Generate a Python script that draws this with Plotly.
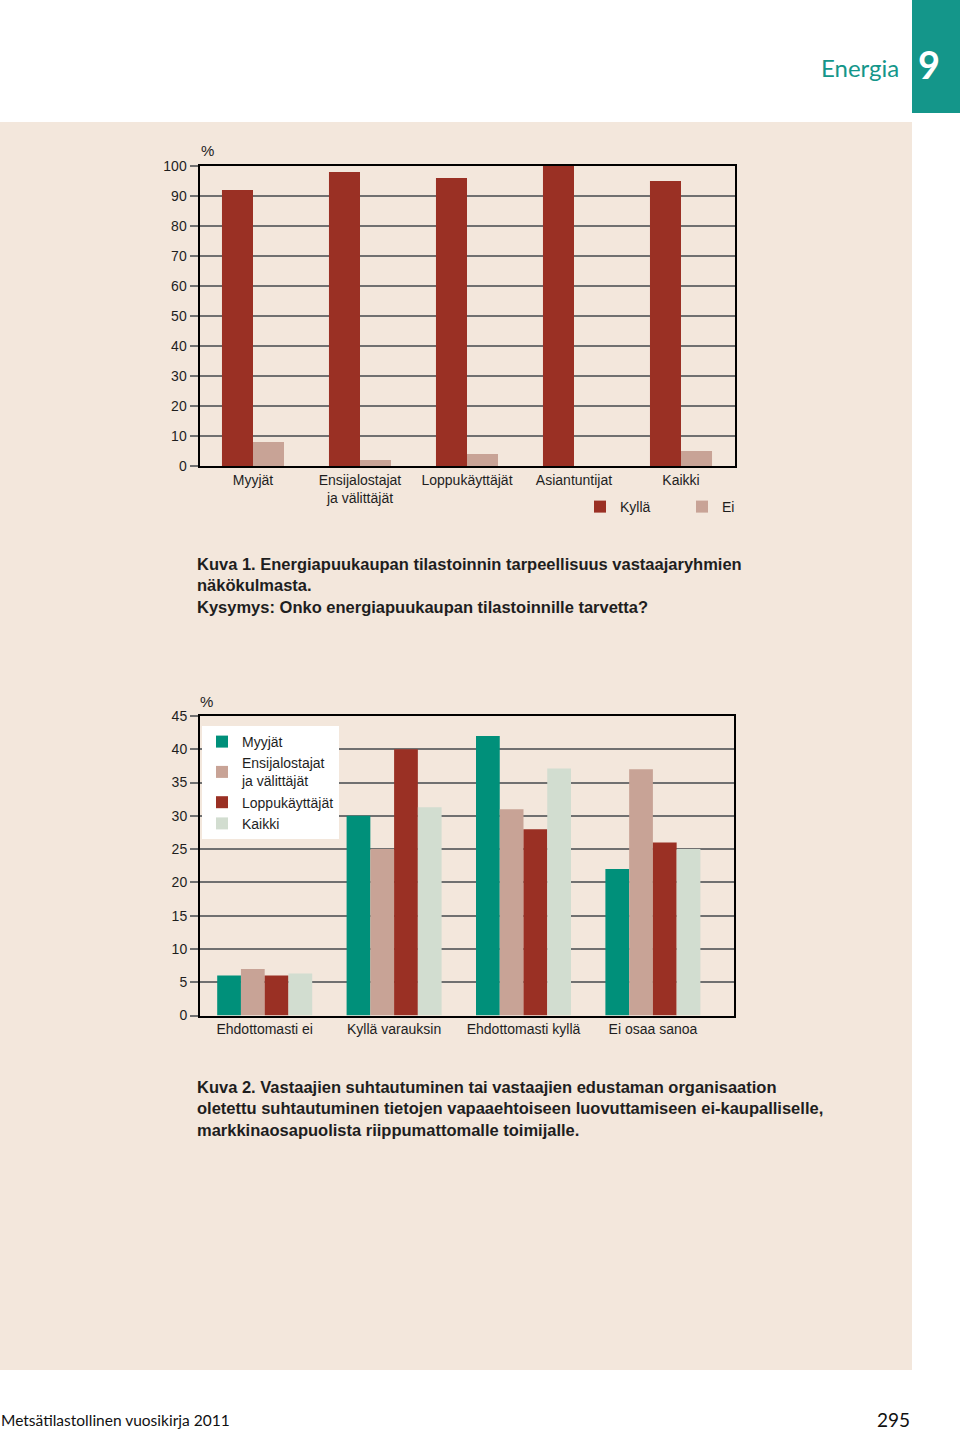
import plotly.graph_objects as go

W, H = 960, 1432

# ---------- data ----------
groups1 = ["Myyjät", "Ensijalostajat<br>ja välittäjät", "Loppukäyttäjät", "Asiantuntijat", "Kaikki"]
kylla = [92, 98, 96, 100, 95]
ei = [8, 2, 4, 0, 5]
y1_ticks = [0, 10, 20, 30, 40, 50, 60, 70, 80, 90, 100]

groups2 = ["Ehdottomasti ei", "Kyllä varauksin", "Ehdottomasti kyllä", "Ei osaa sanoa"]
myyjat = [6, 30, 42, 22]
ensijalostajat = [7, 25, 31, 37]
loppukayttajat = [6, 40, 28, 26]
kaikki = [6.3, 31.3, 37.1, 25]
y2_ticks = [0, 5, 10, 15, 20, 25, 30, 35, 40, 45]

# ---------- style ----------
RED = "#9A3024"
PINK = "#C8A396"
TEAL = "#00907A"
LIGHT = "#D2DDD0"
BEIGE = "#F3E7DC"
HEAD = "#14968A"
GRID = "#707070"
FONT = "Liberation Sans Narrow, Arial Narrow, Liberation Sans, Arial, sans-serif"
HFONT = "Lato, Open Sans, sans-serif"
TXT = "#1E1E1E"


def px(x):
    return x / W


def py(y):
    return 1 - y / H


fig = go.Figure()

fig.add_trace(go.Bar(x=groups1, y=kylla, name="Kyllä", marker_color=RED, marker_line_width=0,
                     xaxis="x", yaxis="y", legend="legend"))
fig.add_trace(go.Bar(x=groups1, y=ei, name="Ei", marker_color=PINK, marker_line_width=0,
                     xaxis="x", yaxis="y", legend="legend"))

series2 = [
    ("Myyjät", myyjat, TEAL),
    ("Ensijalostajat<br>ja välittäjät", ensijalostajat, PINK),
    ("Loppukäyttäjät", loppukayttajat, RED),
    ("Kaikki", kaikki, LIGHT),
]
CAT_PX = 129.4
GROUP_PX = 95.0
bw = (GROUP_PX / 4) / CAT_PX
for i, (nm, vals, col) in enumerate(series2):
    fig.add_trace(go.Bar(x=groups2, y=vals, name=nm, marker_color=col, marker_line_width=0,
                         width=bw, offset=-GROUP_PX / 2 / CAT_PX + i * bw,
                         xaxis="x2", yaxis="y2", legend="legend2"))

axis_common = dict(showline=True, linecolor="black", linewidth=2, mirror=True, automargin=False,
                   tickfont=dict(family=FONT, size=14, color=TXT))

fig.update_layout(
    width=W, height=H,
    margin=dict(l=0, r=0, t=0, b=0, pad=0, autoexpand=False),
    paper_bgcolor="white",
    plot_bgcolor="white",
    barmode="group",
    bargap=0.42,
    bargroupgap=0,
    font=dict(family=FONT, size=14, color=TXT),
    showlegend=True,
    xaxis=dict(domain=[px(199.5), px(734.5)], anchor="y", type="category",
               range=[-0.5, 4.5], ticks="", **axis_common),
    yaxis=dict(domain=[py(466), py(166)], anchor="x", range=[0, 100], tickvals=y1_ticks,
               showgrid=True, gridcolor=GRID, gridwidth=1.6, zeroline=False,
               ticks="outside", ticklen=8, tickcolor=GRID, tickwidth=1.5, **axis_common),
    xaxis2=dict(domain=[px(200), px(734)], anchor="y2", type="category",
                range=[-0.5, -0.5 + 534 / CAT_PX], ticks="", **axis_common),
    yaxis2=dict(domain=[py(1015.5), py(716)], anchor="x2", range=[0, 45], tickvals=y2_ticks,
                showgrid=True, gridcolor=GRID, gridwidth=1.6, zeroline=False,
                ticks="outside", ticklen=8, tickcolor=GRID, tickwidth=1.5, **axis_common),
    legend=dict(orientation="h", x=px(580), xanchor="left", y=py(491), yanchor="top",
                bgcolor="rgba(0,0,0,0)", entrywidth=57, entrywidthmode="pixels",
                font=dict(family=FONT, size=14, color=TXT), traceorder="normal"),
    legend2=dict(orientation="v", x=px(202), xanchor="left", y=py(726), yanchor="top",
                 bgcolor="white", entrywidth=102, entrywidthmode="pixels",
                 font=dict(family=FONT, size=14, color=TXT),
                 traceorder="normal", tracegroupgap=0),
)

shapes = [
    dict(type="rect", xref="paper", yref="paper", x0=0, x1=px(912), y0=py(1370), y1=py(122),
         fillcolor=BEIGE, line_width=0, layer="below"),
    dict(type="rect", xref="paper", yref="paper", x0=px(912), x1=1, y0=py(113), y1=1,
         fillcolor=HEAD, line_width=0, layer="below"),
]
fig.update_layout(shapes=shapes)

ann = []


def text(x, y, s, size=14, color=TXT, family=FONT, xanchor="left", yanchor="middle", align="left"):
    ann.append(dict(x=px(x), y=py(y), xref="paper", yref="paper", text=s, showarrow=False,
                    xanchor=xanchor, yanchor=yanchor, align=align,
                    font=dict(size=size, color=color, family=family)))


text(199, 150, "%", size=15)
text(198, 701, "%", size=15)
text(901, 68, "Energia", size=24, color=HEAD, family=HFONT, xanchor="right")
text(929, 64, "<b>9</b>", size=38, color="white", family=HFONT, xanchor="center")

text(195, 585, "<b>Kuva 1. Energiapuukaupan tilastoinnin tarpeellisuus vastaajaryhmien<br>"
               "näkökulmasta.<br>Kysymys: Onko energiapuukaupan tilastoinnille tarvetta?</b>", size=16.5)
text(195, 1108, "<b>Kuva 2. Vastaajien suhtautuminen tai vastaajien edustaman organisaation<br>"
                "oletettu suhtautuminen tietojen vapaaehtoiseen luovuttamiseen ei-kaupalliselle,<br>"
                "markkinaosapuolista riippumattomalle toimijalle.</b>", size=16.5)

text(-1, 1420, "Metsätilastollinen vuosikirja 2011", size=15.5, color="#111", family=HFONT)
text(912, 1419, "295", size=19, color="#111", family=HFONT, xanchor="right")

fig.update_layout(annotations=ann)

fig.write_html("out.html", post_script="document.body.style.margin='0';")
